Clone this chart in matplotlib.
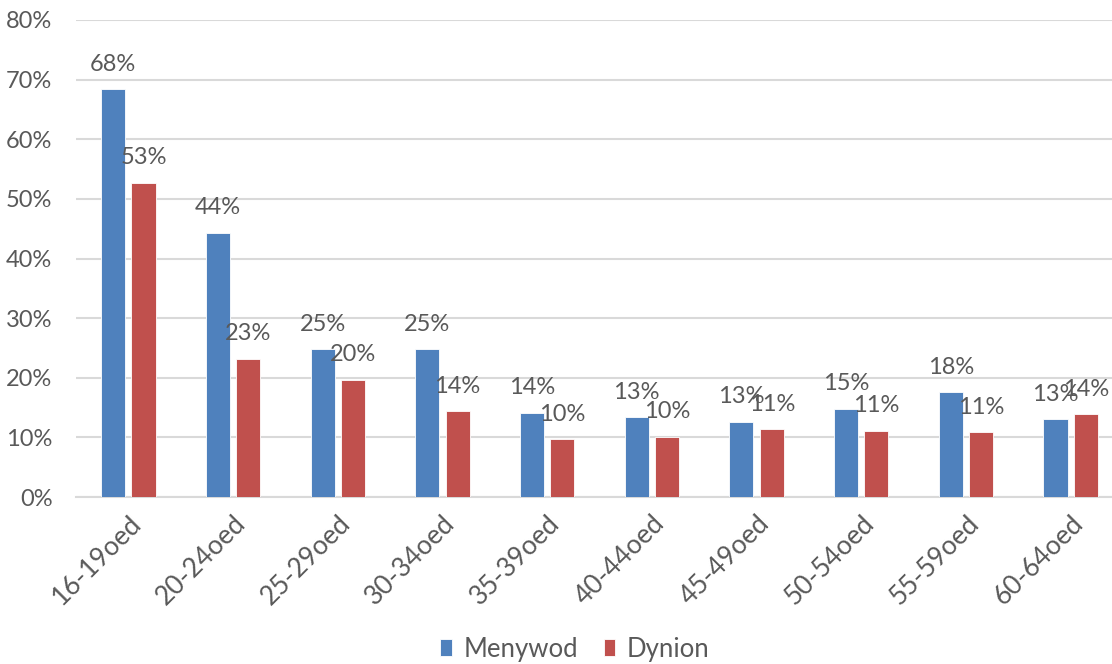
import numpy as np
import matplotlib
matplotlib.use("Agg")
import matplotlib.pyplot as plt
from matplotlib.ticker import PercentFormatter

# Age groups and shares by sex
categories = ["16-19oed", "20-24oed", "25-29oed", "30-34oed", "35-39oed",
              "40-44oed", "45-49oed", "50-54oed", "55-59oed", "60-64oed"]
menywod = [0.684, 0.443, 0.248, 0.248, 0.141, 0.134, 0.126, 0.148, 0.176, 0.130]
dynion = [0.527, 0.232, 0.197, 0.144, 0.097, 0.101, 0.114, 0.111, 0.109, 0.139]
series_names = ["Menywod", "Dynion"]

plt.rcParams["font.family"] = ["Lato", "DejaVu Sans"]
grey = "#595959"
colors = ["#4F81BD", "#C0504D"]

W, H = 1112, 664
fig = plt.figure(figsize=(W / 100, H / 100), dpi=100)
# axes runs a bit past the right edge, as in the cropped original
left, right = 76, 1123
ax = fig.add_axes([left / W, (H - 497) / H, (right - left) / W, 477 / H])

x = np.arange(len(categories))
bw = 0.23
off = 0.145
for vals, dx, c, name in zip([menywod, dynion], [-off, off], colors, series_names):
    bars = ax.bar(x + dx, vals, bw, color=c, edgecolor="white", linewidth=0.6,
                  label=name, zorder=3)
    for b, v in zip(bars, vals):
        ax.annotate(f"{v:.0%}", (b.get_x() + b.get_width() / 2, v),
                    xytext=(0, 18), textcoords="offset points",
                    ha="center", va="center", fontsize=17, color=grey, zorder=4)

ax.set_xlim(-0.5, len(categories) - 0.5)
ax.set_ylim(0, 0.8)
ax.set_yticks(np.arange(0, 0.81, 0.1))
ax.yaxis.set_major_formatter(PercentFormatter(1.0, decimals=0))
ax.grid(axis="y", color="#d9d9d9", linewidth=1.5, zorder=0)
ax.set_axisbelow(True)
for s in ["top", "right", "left"]:
    ax.spines[s].set_visible(False)
ax.spines["bottom"].set_color("#d9d9d9")
ax.spines["bottom"].set_linewidth(1.5)
ax.tick_params(axis="both", length=0, labelsize=17, labelcolor=grey)
ax.tick_params(axis="y", pad=17)
ax.set_xticks(x)
ax.set_xticklabels(categories, rotation=45, ha="right", rotation_mode="anchor",
                   fontsize=19)
ax.tick_params(axis="x", pad=10)

fig.legend(loc="center", bbox_to_anchor=(575 / W, 1 - 649 / H), ncol=2,
           frameon=False, fontsize=18.5, labelcolor=grey,
           handlelength=0.45, handleheight=0.6, handletextpad=0.45,
           columnspacing=1.0)

fig.savefig("out.png", dpi=100)
